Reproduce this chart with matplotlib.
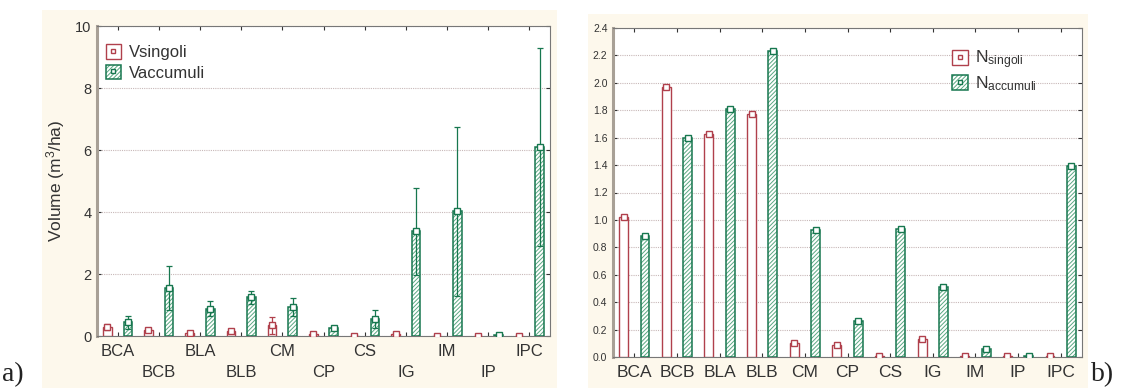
import matplotlib
matplotlib.use("Agg")
import matplotlib.pyplot as plt
import numpy as np
from matplotlib.patches import Rectangle, Patch
from matplotlib.lines import Line2D

plt.rcParams['font.family'] = ['Liberation Sans', 'DejaVu Sans']
plt.rcParams['mathtext.default'] = 'regular'
plt.rcParams['hatch.linewidth'] = 0.7

categories = ["BCA", "BCB", "BLA", "BLB", "CM", "CP", "CS", "IG", "IM", "IP", "IPC"]

# Panel a) volumes (m3/ha) with error bars
v_singoli = [0.28, 0.20, 0.10, 0.17, 0.35, 0.05, 0.01, 0.05, 0.01, 0.01, 0.01]
v_singoli_err = [0.10, 0.06, 0.03, 0.05, 0.27, 0.02, 0.0, 0.02, 0.0, 0.0, 0.0]
v_accumuli = [0.45, 1.55, 0.88, 1.25, 0.93, 0.25, 0.55, 3.38, 4.02, 0.02, 6.10]
v_accumuli_err = [0.21, 0.70, 0.25, 0.21, 0.28, 0.05, 0.28, 1.40, 2.73, 0.0, 3.20]

# Panel b) numbers
n_singoli = [1.02, 1.97, 1.63, 1.77, 0.10, 0.09, 0.01, 0.13, 0.01, 0.01, 0.01]
n_accumuli = [0.88, 1.595, 1.81, 2.235, 0.93, 0.26, 0.935, 0.51, 0.06, 0.01, 1.395]

RED = "#b0404c"
GREEN = "#17774f"
HATCH_GREEN = "#5aa882"
SPINE = "#a8a096"
GRID = "#c8b8b8"
CREAM = "#fdf8ec"
HATCH = "////////"

W, H = 1123, 389
fig = plt.figure(figsize=(W / 100, H / 100), dpi=100)
fig.patch.set_facecolor("white")

def fr(x0, y0, x1, y1):
    return [x0 / W, 1 - y1 / H, (x1 - x0) / W, (y1 - y0) / H]

# cream panel backgrounds
for (x0, y0, x1, y1) in [(42, 10, 557, 388), (588, 14, 1088, 388)]:
    fig.patches.append(Rectangle((x0 / W, 1 - y1 / H), (x1 - x0) / W, (y1 - y0) / H,
                                 transform=fig.transFigure, facecolor=CREAM,
                                 edgecolor="none", zorder=-5))

x = np.arange(len(categories))
off = 0.25
bw = 0.21

def style_axes(ax, ymax, step, ytick_fs):
    ax.set_zorder(2)
    ax.set_facecolor("white")
    ax.set_xlim(-0.5, len(categories) - 0.5)
    ax.set_ylim(0, ymax)
    ax.set_yticks(np.arange(0, ymax + step / 2, step))
    ax.yaxis.grid(True, linestyle=(0, (1, 1)), color=GRID, linewidth=0.8)
    ax.set_axisbelow(True)
    for s in ["top", "right", "bottom"]:
        ax.spines[s].set_color("#777777")
        ax.spines[s].set_linewidth(0.8)
    ax.spines["left"].set_color(SPINE)
    ax.spines["left"].set_linewidth(2.2)
    ax.tick_params(axis="y", direction="in", length=3, width=0.8, right=True,
                   labelsize=ytick_fs, colors="#333333", labelcolor="#333333", pad=4)
    ax.tick_params(axis="x", direction="in", length=3, width=0.8, top=True,
                   colors="#333333")

def draw_bars(ax, vals_s, vals_a):
    ax.bar(x - off, vals_s, bw, facecolor="white", edgecolor=RED, linewidth=1.0, zorder=3)
    ax.bar(x + off, vals_a, bw, facecolor="white", edgecolor=HATCH_GREEN, hatch=HATCH,
           linewidth=0, zorder=3)
    ax.bar(x + off, vals_a, bw, facecolor="none", edgecolor=GREEN, linewidth=1.1, zorder=3)

def legend_handles(fill_label, hatch_label):
    h1 = (Patch(facecolor="white", edgecolor=RED, linewidth=1.0),
          Line2D([], [], marker="s", markersize=3.5, markerfacecolor="white",
                 markeredgecolor=RED, linestyle="none"))
    h2 = (Patch(facecolor="white", edgecolor=HATCH_GREEN, hatch=HATCH, linewidth=0),
          Patch(facecolor="none", edgecolor=GREEN, linewidth=1.1),
          Line2D([], [], marker="s", markersize=3.5, markerfacecolor="white",
                 markeredgecolor=GREEN, linestyle="none"))
    return [h1, h2], [fill_label, hatch_label]

# ---------------- Panel a ----------------
ax1 = fig.add_axes(fr(97, 26, 550, 336))
style_axes(ax1, 10, 2, 10.5)
draw_bars(ax1, v_singoli, v_accumuli)
ax1.errorbar(x - off, v_singoli, yerr=v_singoli_err, fmt="s", markersize=4,
             markerfacecolor="white", markeredgecolor=RED, ecolor=RED,
             elinewidth=0.9, capsize=2.5, capthick=0.9, zorder=4)
ax1.errorbar(x + off, v_accumuli, yerr=v_accumuli_err, fmt="s", markersize=4,
             markerfacecolor="white", markeredgecolor=GREEN, ecolor=GREEN,
             elinewidth=0.9, capsize=2.5, capthick=0.9, zorder=4)
ax1.set_xticks(x)
ax1.set_xticklabels(["" for _ in categories])
for i, c in enumerate(categories):
    ax1.annotate(c, xy=(i, 0), xycoords=("data", "axes fraction"),
                 xytext=(0, -6 if i % 2 == 0 else -21), textcoords="offset points",
                 ha="center", va="top", fontsize=12, color="#333333")
ax1.set_ylabel("Volume (m$^3$/ha)", fontsize=12.5, color="#333333", labelpad=6)
hs, ls = legend_handles("Vsingoli", "Vaccumuli")
ax1.legend(hs, ls, loc="upper left", bbox_to_anchor=(-0.017, 0.995), frameon=False,
           fontsize=12, handlelength=0.9, handleheight=1.0, handletextpad=0.5,
           labelspacing=0.25, borderaxespad=0.6, labelcolor="#333333")

# ---------------- Panel b ----------------
ax2 = fig.add_axes(fr(613, 28, 1082, 357))
style_axes(ax2, 2.4, 0.2, 7.5)
ax2.set_yticklabels([f"{v:.1f}" for v in np.arange(0, 2.41, 0.2)])
draw_bars(ax2, n_singoli, n_accumuli)
ax2.plot(x - off, n_singoli, "s", markersize=4, markerfacecolor="white",
         markeredgecolor=RED, zorder=4)
ax2.plot(x + off, n_accumuli, "s", markersize=4, markerfacecolor="white",
         markeredgecolor=GREEN, zorder=4)
ax2.set_xticks(x)
ax2.set_xticklabels(categories, fontsize=12.5, color="#333333")
ax2.tick_params(axis="x", pad=6)
hs, ls = legend_handles("N$_{singoli}$", "N$_{accumuli}$")
ax2.legend(hs, ls, loc="upper left", bbox_to_anchor=(0.69, 0.985), frameon=False,
           fontsize=12.5, handlelength=0.9, handleheight=1.0, handletextpad=0.4,
           labelspacing=0.2, labelcolor="#333333")

# panel labels
fig.text(2 / W, 1 - 387 / H, "a)", family=["Liberation Serif", "DejaVu Serif"],
         fontsize=20, ha="left", va="bottom", color="#222222")
fig.text(1091 / W, 1 - 387 / H, "b)", family=["Liberation Serif", "DejaVu Serif"],
         fontsize=20, ha="left", va="bottom", color="#222222")

fig.savefig("out.png", dpi=100, facecolor="white")
